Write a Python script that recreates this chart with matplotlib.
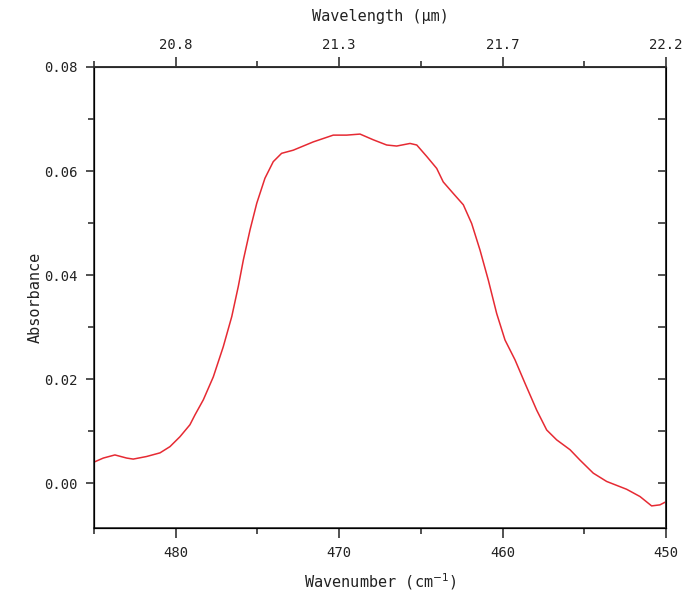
import matplotlib
matplotlib.use("Agg")
import matplotlib.pyplot as plt
from matplotlib.ticker import MultipleLocator, FixedLocator

# ── data ──
wavenumber = [484.94, 484.43, 483.72, 483.00, 482.60, 481.78, 480.96, 480.35,
              479.74, 479.13, 478.82, 478.31, 477.70, 477.09, 476.57, 476.17,
              475.86, 475.45, 475.04, 474.54, 474.03, 473.52, 472.81, 471.58,
              470.36, 469.54, 468.72, 467.91, 467.09, 466.48, 465.66, 465.25,
              464.64, 464.03, 463.63, 463.02, 462.40, 461.89, 461.38, 460.87,
              460.36, 459.85, 459.24, 458.63, 457.91, 457.30, 456.69, 455.87,
              455.26, 454.45, 453.63, 452.41, 451.59, 450.88, 450.37, 450.00]
absorbance = [0.0041, 0.0048, 0.0054, 0.0048, 0.0046, 0.0051, 0.0058, 0.0070,
              0.0089, 0.0112, 0.0131, 0.0160, 0.0204, 0.0262, 0.0320, 0.0378,
              0.0429, 0.0487, 0.0538, 0.0586, 0.0618, 0.0634, 0.0640, 0.0656,
              0.0669, 0.0669, 0.0671, 0.0660, 0.0650, 0.0648, 0.0653, 0.0650,
              0.0628, 0.0605, 0.0579, 0.0557, 0.0535, 0.0499, 0.0448, 0.0390,
              0.0326, 0.0275, 0.0237, 0.0192, 0.0140, 0.0102, 0.0083, 0.0064,
              0.0044, 0.0019, 0.0003, -0.0012, -0.0026, -0.0044, -0.0042, -0.0036]

bottom_ticks = [480, 470, 460, 450]
top_labels = ["20.8", "21.3", "21.7", "22.2"]
y_ticks = [0.00, 0.02, 0.04, 0.06, 0.08]

FONT = "DejaVu Sans Mono"
AX_COLOR = "#333333"
TXT_COLOR = "#222222"

fig = plt.figure(figsize=(6.89, 5.95), dpi=100)
ax = fig.add_axes([0.1364, 0.1126, 0.8302, 0.7748])

ax.plot(wavenumber, absorbance, color="#e62a33", linewidth=1.1)

ax.set_xlim(485, 450)
ax.set_ylim(-0.00865, 0.08)

for s in ax.spines.values():
    s.set_color(AX_COLOR)
    s.set_linewidth(1.2)

ax.xaxis.set_major_locator(FixedLocator(bottom_ticks))
ax.xaxis.set_minor_locator(MultipleLocator(5))
ax.set_xticklabels([str(t) for t in bottom_ticks], family=FONT, fontsize=10,
                   color=TXT_COLOR)

ax.yaxis.set_major_locator(FixedLocator(y_ticks))
ax.yaxis.set_minor_locator(MultipleLocator(0.01))
ax.set_yticklabels([f"{t:.2f}" for t in y_ticks], family=FONT, fontsize=10,
                   color=TXT_COLOR)

ax.tick_params(axis="x", which="major", direction="out", length=7, width=1.2,
               color=AX_COLOR, pad=6, top=False)
ax.tick_params(axis="x", which="minor", direction="out", length=4, width=1.2,
               color=AX_COLOR, top=False)
ax.tick_params(axis="y", which="major", direction="out", length=6, width=1.2,
               color=AX_COLOR, pad=6, right=False)
ax.tick_params(axis="y", which="minor", direction="out", length=4, width=1.2,
               color=AX_COLOR, right=False)

# right side: inward ticks every 0.01
axr = ax.twinx()
axr.set_ylim(ax.get_ylim())
axr.yaxis.set_major_locator(MultipleLocator(0.01))
axr.tick_params(axis="y", direction="in", length=6, width=1.2, color=AX_COLOR,
                labelright=False)
axr.spines["right"].set_color(AX_COLOR)
axr.spines["right"].set_linewidth(1.2)

# top axis: wavelength labels at the wavenumber positions
axt = ax.twiny()
axt.set_xlim(ax.get_xlim())
axt.xaxis.set_major_locator(FixedLocator(bottom_ticks))
axt.xaxis.set_minor_locator(MultipleLocator(5))
axt.set_xticklabels(top_labels, family=FONT, fontsize=10, color=TXT_COLOR)
axt.tick_params(axis="x", which="major", direction="out", length=7, width=1.2,
                color=AX_COLOR, pad=4)
axt.tick_params(axis="x", which="minor", direction="out", length=4, width=1.2,
                color=AX_COLOR)
axt.spines["top"].set_color(AX_COLOR)
axt.spines["top"].set_linewidth(1.2)

ax.set_xlabel("Wavenumber (cm$^{-1}$)", family=FONT, fontsize=11, labelpad=8,
              color=TXT_COLOR)
axt.set_xlabel("Wavelength (μm)", family=FONT, fontsize=11, labelpad=12,
               color=TXT_COLOR)
ax.set_ylabel("Absorbance", family=FONT, fontsize=11, labelpad=1,
              color=TXT_COLOR)

fig.savefig("out.png", dpi=100)
